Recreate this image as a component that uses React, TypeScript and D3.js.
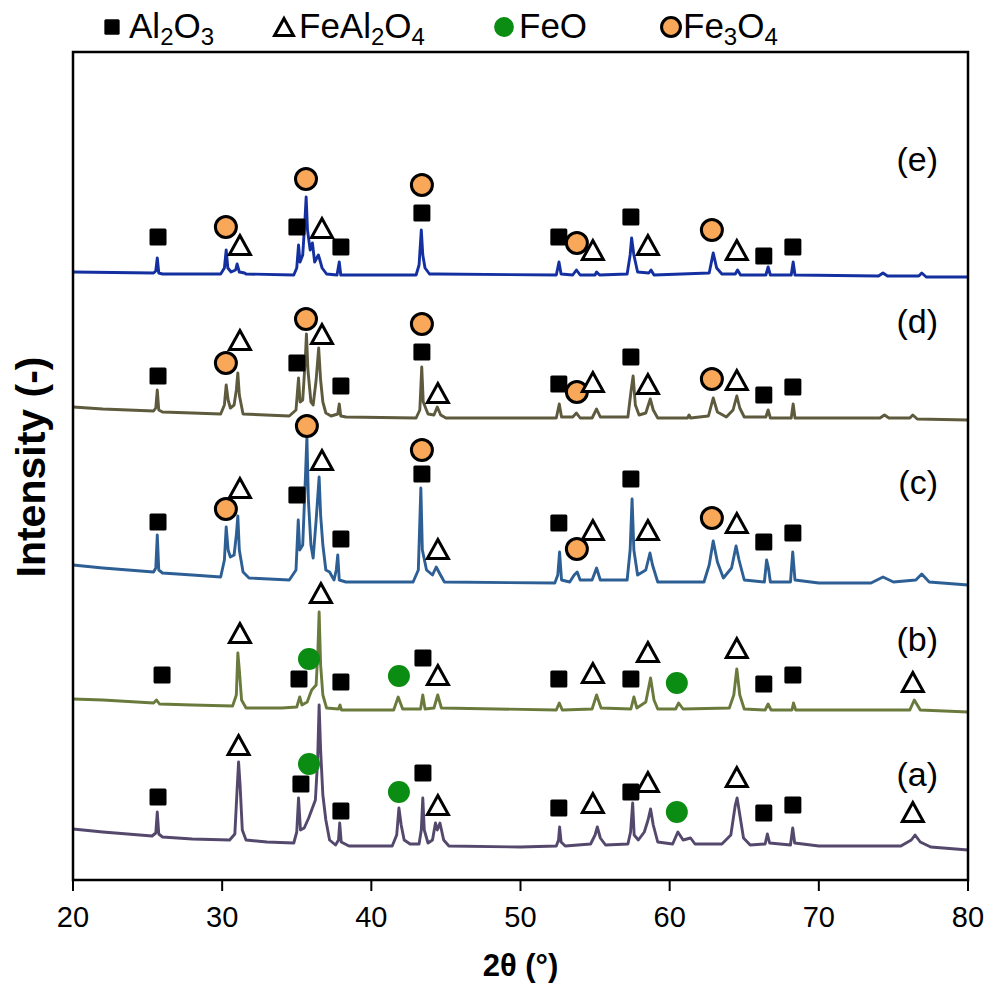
import React from "react";
import * as d3 from "d3";

// ---------- data (2θ in degrees, intensity in arbitrary units) ----------
const xTicks = [20, 30, 40, 50, 60, 70, 80];
const sampleLabels = ["(a)", "(b)", "(c)", "(d)", "(e)"];
const phases = ["Al2O3", "FeAl2O4", "FeO", "Fe3O4"];

const traceA: [number, number][] = [
  [20, 51], [22, 48], [25.3, 44], [25.55, 47], [25.65, 68], [25.75, 46], [26.0, 43], [28, 41], [30.5, 40],
  [30.85, 46], [31.0, 90], [31.1, 118], [31.2, 95], [31.35, 50], [31.6, 40], [33, 38], [34.8, 37], [35.0, 48],
  [35.12, 82], [35.25, 50], [35.5, 52], [35.8, 62], [36.05, 72], [36.25, 80], [36.4, 120], [36.5, 175],
  [36.6, 130], [36.75, 85], [36.95, 60], [37.2, 40], [37.6, 35], [37.8, 40], [37.88, 57], [37.98, 38],
  [38.5, 34], [41.4, 34], [41.7, 45], [41.85, 72], [42.0, 55], [42.2, 40], [42.6, 36], [43.2, 36], [43.35, 50],
  [43.45, 82], [43.55, 50], [43.8, 37], [44.1, 40], [44.3, 57], [44.42, 50], [44.6, 57], [44.85, 40], [45.2, 34],
  [50, 33], [52.4, 34], [52.55, 40], [52.62, 53], [52.72, 38], [53, 34], [54.7, 36], [55.0, 45], [55.15, 53],
  [55.35, 42], [55.7, 35], [57.2, 36], [57.38, 48], [57.52, 77], [57.62, 45], [57.9, 40], [58.3, 48], [58.55, 60],
  [58.72, 71], [58.9, 55], [59.2, 38], [60.2, 36], [60.55, 48], [60.9, 40], [61.4, 42], [61.7, 36], [63.5, 36],
  [64.1, 45], [64.4, 75], [64.52, 82], [64.65, 70], [64.95, 42], [65.4, 35], [66.4, 36], [66.55, 46], [66.7, 37],
  [68.1, 35], [68.25, 52], [68.38, 37], [70, 34], [75.5, 34], [76.2, 40], [76.45, 45], [76.8, 38], [77.5, 33], [80, 30],
];

const traceB: [number, number][] = [
  [20, 181], [22, 180], [25.4, 177], [25.6, 180], [25.8, 176], [28, 175], [30.7, 174], [30.95, 185], [31.05, 227],
  [31.15, 210], [31.3, 180], [31.6, 172], [34, 172], [35.0, 173], [35.2, 183], [35.35, 175], [35.7, 178], [36.0, 190],
  [36.3, 195], [36.42, 230], [36.5, 268], [36.6, 215], [36.75, 185], [37.0, 172], [37.8, 171], [37.9, 175], [38.0, 170],
  [41.5, 170], [41.8, 183], [42.1, 171], [43.3, 171], [43.45, 185], [43.6, 171], [44.2, 172], [44.45, 185], [44.7, 172],
  [52.4, 170], [52.6, 177], [52.8, 170], [54.8, 171], [55.1, 185], [55.4, 172], [57.4, 171], [57.6, 183], [57.8, 172],
  [58.4, 178], [58.72, 202], [58.95, 180], [59.2, 171], [60.4, 171], [60.6, 177], [60.9, 171], [64.0, 172], [64.3, 185],
  [64.5, 211], [64.7, 185], [65.0, 171], [66.4, 170], [66.6, 176], [66.8, 170], [68.2, 170], [68.3, 177], [68.45, 170],
  [76.1, 170], [76.4, 180], [76.8, 170], [80, 168],
];

const traceC: [number, number][] = [
  [20, 315], [22, 312], [25.4, 308], [25.55, 312], [25.65, 345], [25.75, 310], [26.0, 307], [28, 305], [29.9, 303],
  [30.15, 320], [30.27, 353], [30.4, 330], [30.55, 323], [30.8, 325], [30.95, 345], [31.05, 364], [31.15, 330],
  [31.4, 308], [31.8, 302], [34.5, 300], [34.95, 310], [35.1, 360], [35.2, 330], [35.4, 335], [35.6, 410], [35.68, 443],
  [35.78, 380], [35.95, 335], [36.1, 322], [36.3, 360], [36.5, 403], [36.6, 365], [36.75, 335], [36.95, 310], [37.2, 308],
  [37.5, 300], [37.65, 310], [37.75, 325], [37.85, 300], [38.3, 298], [42.8, 298], [43.15, 310], [43.32, 392],
  [43.42, 330], [43.7, 310], [44.1, 305], [44.35, 313], [44.6, 306], [44.9, 298], [52.3, 297], [52.5, 305], [52.62, 328],
  [52.75, 300], [53.3, 298], [53.6, 305], [53.8, 308], [54.0, 300], [54.8, 300], [55.1, 312], [55.35, 300], [57.15, 300],
  [57.35, 330], [57.48, 381], [57.6, 330], [57.85, 305], [58.4, 310], [58.68, 327], [58.85, 315], [59.2, 298], [62.3, 298],
  [62.65, 315], [62.92, 339], [63.2, 318], [63.6, 302], [64.15, 312], [64.45, 334], [64.65, 320], [65.0, 300], [66.35, 298],
  [66.5, 320], [66.62, 312], [66.75, 298], [68.1, 298], [68.25, 328], [68.4, 300], [70, 297], [73.5, 297], [74.3, 303],
  [75, 298], [76.5, 300], [76.9, 306], [77.4, 298], [80, 295],
];

const traceD: [number, number][] = [
  [20, 473], [22, 471], [25.4, 469], [25.55, 472], [25.65, 490], [25.75, 470], [26.0, 468], [28, 467], [29.9, 466],
  [30.15, 475], [30.27, 495], [30.4, 480], [30.55, 472], [30.8, 475], [30.95, 490], [31.05, 507], [31.15, 485],
  [31.4, 466], [34.5, 464], [34.95, 470], [35.12, 502], [35.22, 478], [35.4, 480], [35.57, 520], [35.65, 546],
  [35.75, 510], [35.95, 478], [36.1, 475], [36.3, 500], [36.47, 532], [36.6, 500], [36.75, 478], [36.95, 467],
  [37.3, 464], [37.75, 466], [37.85, 476], [37.95, 464], [38.3, 463], [43.0, 462], [43.25, 470], [43.38, 513],
  [43.48, 478], [43.8, 466], [44.2, 465], [44.42, 473], [44.65, 465], [45.0, 462], [52.4, 462], [52.6, 476], [52.75, 463],
  [53.5, 463], [53.75, 467], [54.0, 462], [54.8, 462], [55.1, 471], [55.35, 463], [57.2, 463], [57.42, 490], [57.55, 504],
  [57.7, 475], [57.95, 465], [58.4, 467], [58.7, 481], [58.9, 470], [59.2, 462], [61.2, 462], [61.3, 465], [61.4, 462],
  [62.6, 464], [62.92, 482], [63.2, 468], [63.8, 463], [64.25, 470], [64.5, 484], [64.7, 472], [65.0, 463], [66.45, 463],
  [66.6, 470], [66.75, 462], [68.15, 462], [68.28, 476], [68.4, 462], [74.1, 462], [74.4, 465], [74.7, 462], [76.1, 462],
  [76.3, 465], [76.6, 461], [80, 460],
];

const traceE: [number, number][] = [
  [20, 608], [25.4, 607], [25.55, 609], [25.65, 622], [25.75, 607], [26.0, 606], [29.9, 606], [30.15, 612], [30.27, 630],
  [30.38, 612], [30.6, 608], [30.9, 610], [31.0, 616], [31.15, 608], [31.5, 607], [31.6, 606], [34.8, 605], [35.0, 612],
  [35.12, 635], [35.22, 618], [35.4, 625], [35.55, 660], [35.63, 683], [35.72, 650], [35.9, 630], [36.05, 637],
  [36.2, 618], [36.45, 625], [36.55, 620], [36.7, 612], [37.0, 606], [37.7, 605], [37.85, 618], [37.95, 605], [43.0, 605],
  [43.2, 615], [43.35, 650], [43.45, 625], [43.6, 612], [43.9, 606], [44.4, 606], [52.4, 605], [52.58, 618], [52.72, 606],
  [53.5, 605], [53.75, 610], [54.0, 605], [55.0, 605], [55.1, 608], [55.3, 605], [57.15, 606], [57.35, 625], [57.45, 642],
  [57.6, 625], [57.85, 608], [58.6, 607], [58.75, 610], [58.95, 605], [62.65, 607], [62.92, 627], [63.15, 612], [63.5, 606],
  [64.4, 606], [64.55, 610], [64.75, 605], [66.45, 605], [66.6, 613], [66.75, 605], [68.15, 605], [68.28, 618], [68.4, 605],
  [74, 604], [74.3, 607], [74.6, 604], [76.7, 604], [76.9, 607], [77.2, 603], [80, 603],
];

// phase markers: [phase index, 2θ, intensity]
const markersA: [number, number, number][] = [
  [0, 25.7, 83], [1, 31.1, 135], [2, 35.82, 116], [0, 35.28, 96], [0, 37.96, 69], [2, 41.85, 88], [0, 43.46, 107],
  [1, 44.46, 75], [0, 52.57, 72], [1, 54.85, 77], [0, 57.4, 88], [1, 58.54, 98], [2, 60.48, 68], [1, 64.5, 103],
  [0, 66.31, 67], [0, 68.26, 75], [1, 76.3, 68],
];
const markersB: [number, number, number][] = [
  [0, 25.97, 205], [1, 31.19, 247], [2, 35.82, 221], [0, 35.15, 201], [1, 36.62, 287], [0, 37.96, 198], [2, 41.85, 204],
  [0, 43.46, 222], [1, 44.46, 205], [0, 52.57, 201], [1, 54.85, 207], [0, 57.4, 201], [1, 58.54, 228], [2, 60.48, 197],
  [1, 64.5, 232], [0, 66.31, 196], [0, 68.26, 205], [1, 76.3, 198],
];
const markersC: [number, number, number][] = [
  [0, 25.7, 358], [3, 30.25, 371], [1, 31.19, 392], [0, 35.01, 385], [3, 35.68, 454], [1, 36.69, 420], [0, 37.96, 341],
  [3, 43.39, 430], [0, 43.39, 406], [1, 44.46, 331], [0, 52.57, 357], [3, 53.78, 331], [1, 54.85, 350], [0, 57.4, 401],
  [1, 58.54, 350], [3, 62.83, 362], [1, 64.5, 357], [0, 66.31, 338], [0, 68.26, 347],
];
const markersD: [number, number, number][] = [
  [0, 25.7, 504], [3, 30.25, 517], [1, 31.19, 540], [0, 35.01, 517], [3, 35.62, 561], [1, 36.69, 546], [0, 37.96, 494],
  [3, 43.39, 556], [0, 43.39, 528], [1, 44.46, 487], [0, 52.57, 496], [3, 53.78, 488], [1, 54.85, 498], [0, 57.4, 523],
  [1, 58.54, 496], [3, 62.83, 501], [1, 64.5, 500], [0, 66.31, 485], [0, 68.26, 493],
];
const markersE: [number, number, number][] = [
  [0, 25.7, 643], [3, 30.25, 653], [1, 31.19, 635], [0, 35.01, 653], [3, 35.62, 701], [1, 36.69, 652], [0, 37.96, 633],
  [3, 43.39, 695], [0, 43.39, 667], [0, 52.57, 643], [3, 53.78, 637], [1, 54.85, 630], [0, 57.4, 663], [1, 58.54, 635],
  [3, 62.83, 650], [1, 64.5, 630], [0, 66.31, 624], [0, 68.26, 633],
];

// ---------- layout / style ----------
const W = 994, H = 994;
const M = { left: 73, right: 968, top: 52, bottom: 880 };
const FONT = "'Liberation Sans', Arial, Helvetica, sans-serif";
const traceColors = ["#54486c", "#6a7a3c", "#2d5f95", "#5e5a3d", "#1430a0"];
const labelIntensity = [105, 240, 397, 558, 720];

const x = d3.scaleLinear().domain([20, 80]).range([M.left, M.right]);
const y = d3.scaleLinear().domain([0, 828]).range([M.bottom, M.top]);

const line = d3.line<[number, number]>().x((d) => x(d[0])).y((d) => y(d[1]));

function Marker({ kind, cx, cy, s = 1 }: { kind: number; cx: number; cy: number; s?: number }) {
  if (kind === 0) {
    const a = 17 * s;
    return <rect x={cx - a / 2} y={cy - a / 2} width={a} height={a} rx={1.5} fill="#000" />;
  }
  if (kind === 1) {
    const w = 21 * s, h = 19 * s;
    const p = `M${cx},${cy - h / 2} L${cx + w / 2},${cy + h / 2} L${cx - w / 2},${cy + h / 2} Z`;
    return <path d={p} fill="#fff" stroke="#000" strokeWidth={3} strokeLinejoin="miter" />;
  }
  if (kind === 2) return <circle cx={cx} cy={cy} r={11 * s} fill="#0b8c12" />;
  return <circle cx={cx} cy={cy} r={10.5 * s} fill="#f8a858" stroke="#000" strokeWidth={3} />;
}

export default function App() {
  const traces = [traceA, traceB, traceC, traceD, traceE];
  const markers = [markersA, markersB, markersC, markersD, markersE];

  const legendItems = [
    { kind: 0, mx: 112, tx: 129, main: ["Al", "2", "O", "3"] },
    { kind: 1, mx: 284, tx: 299, main: ["FeAl", "2", "O", "4"] },
    { kind: 2, mx: 504, tx: 519, main: ["FeO"] },
    { kind: 3, mx: 671, tx: 683, main: ["Fe", "3", "O", "4"] },
  ];

  return (
    <svg width={W} height={H} style={{ display: "block", position: "absolute", left: 0, top: 0, background: "#fff" }}
      fontFamily={FONT}>
      {/* traces (bottom first) */}
      {traces.map((t, i) => (
        <path key={i} d={line(t) || ""} fill="none" stroke={traceColors[i]} strokeWidth={2.9}
          strokeLinejoin="round" />
      ))}

      {/* markers */}
      {markers.map((ms, i) =>
        ms.map((m, j) => <Marker key={`${i}-${j}`} kind={m[0]} cx={x(m[1])} cy={y(m[2])} />)
      )}

      {/* sample labels */}
      {sampleLabels.map((s, i) => (
        <text key={s} x={938} y={y(labelIntensity[i]) + 11} textAnchor="end" fontSize={34} fill="#000">{s}</text>
      ))}

      {/* frame */}
      <rect x={M.left} y={M.top} width={M.right - M.left} height={M.bottom - M.top} fill="none" stroke="#000" strokeWidth={2.5} />

      {/* x ticks */}
      {xTicks.map((t) => (
        <g key={t}>
          <line x1={x(t)} x2={x(t)} y1={M.bottom} y2={M.bottom + 11} stroke="#000" strokeWidth={2} />
          <text x={x(t)} y={M.bottom + 47} textAnchor="middle" fontSize={29} fill="#000">{t}</text>
        </g>
      ))}

      {/* axis titles */}
      <text x={(M.left + M.right) / 2} y={976} textAnchor="middle" fontSize={31} fontWeight="bold">2θ (°)</text>
      <text transform={`translate(45,${(M.top + M.bottom) / 2 + 1}) rotate(-90)`} textAnchor="middle" fontSize={41}
        fontWeight="bold">Intensity (-)</text>

      {/* legend */}
      {legendItems.map((it, k) => (
        <g key={phases[k]}>
          <Marker kind={it.kind} cx={it.mx} cy={27} s={0.9} />
          <text x={it.tx} y={38} fontSize={35} fill="#000">
            {it.main.map((seg, j) =>
              j % 2 === 1 ? (
                <tspan key={j} fontSize={24} dy={7}>{seg}</tspan>
              ) : (
                <tspan key={j} dy={j === 0 ? 0 : -7}>{seg}</tspan>
              )
            )}
          </text>
        </g>
      ))}
    </svg>
  );
}
